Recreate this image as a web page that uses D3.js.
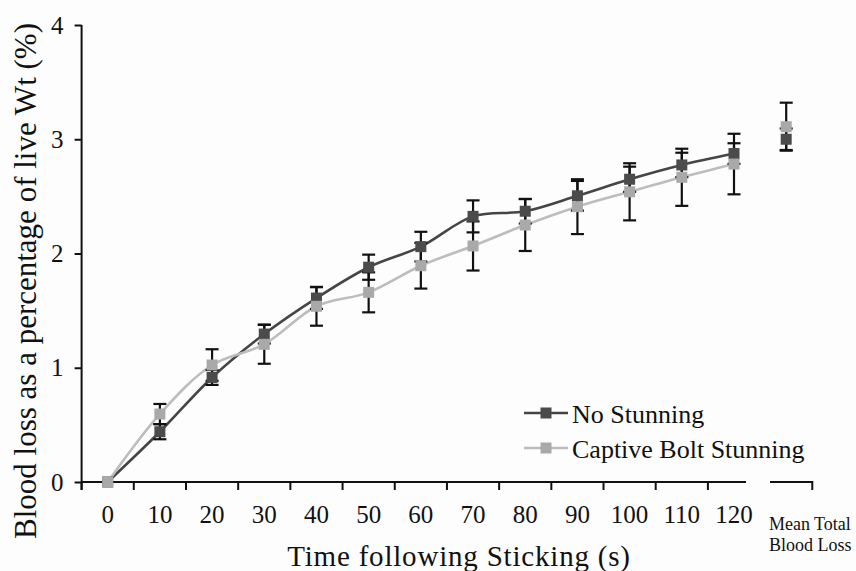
<!DOCTYPE html>
<html>
<head>
<meta charset="utf-8">
<script src="https://cdn.jsdelivr.net/npm/d3@7"></script>
<style>
  body { margin: 0; background: #fdfdfd; }
  svg { display: block; }
  text { font-family: "Liberation Serif", "Times New Roman", serif; fill: #111; }
</style>
</head>
<body>
<div id="chart"></div>
<script>
// Data
const times = [0, 10, 20, 30, 40, 50, 60, 70, 80, 90, 100, 110, 120];
const noStunning = [0, 0.44, 0.915, 1.295, 1.61, 1.88, 2.06, 2.325, 2.37, 2.505, 2.65, 2.775, 2.875];
const noStunningErr = [0, 0.066, 0.065, 0.083, 0.095, 0.11, 0.13, 0.14, 0.108, 0.13, 0.11, 0.107, 0.09];
const captiveBolt = [0, 0.595, 1.024, 1.205, 1.538, 1.66, 1.893, 2.066, 2.249, 2.41, 2.54, 2.667, 2.783];
const captiveBoltErr = [0, 0.088, 0.138, 0.17, 0.17, 0.175, 0.2, 0.215, 0.227, 0.24, 0.25, 0.25, 0.265];
const meanTotal = { noStunning: 3.0, noStunningErr: 0.094, captiveBolt: 3.11, captiveBoltErr: 0.21 };
const meanSlot = 130;   // x position of the "Mean Total Blood Loss" group
const yTicks = [0, 1, 2, 3, 4];

const W = 856, H = 571;
const DARK = "#4b4b4b", DARK_LINE = "#454545";
const LIGHT = "#a9a9a9", LIGHT_LINE = "#bdbdbd";

const svg = d3.select("#chart").append("svg")
  .attr("width", W).attr("height", H);

svg.append("rect").attr("width", W).attr("height", H).attr("fill", "#fdfdfd");

// Scales
const x = d3.scaleLinear().domain([0, 120]).range([107.7, 734]);
const y = d3.scaleLinear().domain([0, 4]).range([482, 25]);

// Y axis
const yAxis = svg.append("g")
  .attr("transform", "translate(" + x(-5) + ",0)")
  .call(d3.axisLeft(y).tickValues(yTicks).tickSize(7).tickPadding(11).tickFormat(d3.format("d")));
yAxis.select(".domain").attr("d", "M0," + y(4) + "V" + (y(0) + 8));
yAxis.selectAll("line, path").attr("stroke", "#111").attr("stroke-width", 2);
yAxis.selectAll("text").style("font-size", "25px").attr("fill", "#111")
  .style("font-family", "'Liberation Serif', serif");

// X axis (main)
const xTickPos = d3.range(-5, 120, 10);
const xAxis = svg.append("g").attr("transform", "translate(0," + y(0) + ")");
xAxis.append("path")
  .attr("d", "M" + x(-5) + ",0H" + x(122.3))
  .attr("stroke", "#111").attr("stroke-width", 2).attr("fill", "none");
xAxis.selectAll(".tk").data(xTickPos).enter().append("line")
  .attr("x1", d => x(d)).attr("x2", d => x(d))
  .attr("y1", 0).attr("y2", 8)
  .attr("stroke", "#111").attr("stroke-width", 2);
xAxis.selectAll(".lbl").data(times).enter().append("text")
  .attr("x", d => x(d)).attr("y", 41)
  .attr("text-anchor", "middle")
  .style("font-size", "25px")
  .text(d => d);

// X axis (mean group)
xAxis.append("path")
  .attr("d", "M" + x(126.9) + ",0H" + x(135) + "V8")
  .attr("stroke", "#111").attr("stroke-width", 2).attr("fill", "none");
const meanLabel = svg.append("text")
  .attr("x", x(126.7)).attr("y", 530)
  .style("font-size", "18px");
meanLabel.append("tspan").attr("x", x(126.7)).text("Mean Total");
meanLabel.append("tspan").attr("x", x(126.7)).attr("dy", 21).text("Blood Loss");

// Axis titles
svg.append("text")
  .attr("x", 459).attr("y", 566)
  .attr("text-anchor", "middle")
  .style("font-size", "29px")
  .style("letter-spacing", "0.8px")
  .text("Time following Sticking (s)");

svg.append("text")
  .attr("transform", "translate(36,281)rotate(-90)")
  .attr("text-anchor", "middle")
  .style("font-size", "31px")
  .text("Blood loss as a percentage of live Wt (%)");

// Series
const series = [
  { name: "No Stunning", vals: noStunning, errs: noStunningErr, mean: meanTotal.noStunning, meanErr: meanTotal.noStunningErr, fill: DARK, line: DARK_LINE },
  { name: "Captive Bolt Stunning", vals: captiveBolt, errs: captiveBoltErr, mean: meanTotal.captiveBolt, meanErr: meanTotal.captiveBoltErr, fill: LIGHT, line: LIGHT_LINE }
];

const line = d3.line()
  .x((d, i) => x(times[i]))
  .y(d => y(d))
  .curve(d3.curveCatmullRom.alpha(0.5));

series.forEach(s => {
  svg.append("path")
    .datum(s.vals)
    .attr("fill", "none")
    .attr("stroke", s.line)
    .attr("stroke-width", 2.6)
    .attr("d", line);
});

// Error bars then markers
const CAP = 6.5, SQ = 11;
series.forEach(s => {
  const pts = s.vals.map((v, i) => ({ t: times[i], v: v, e: s.errs[i] }))
    .concat([{ t: meanSlot, v: s.mean, e: s.meanErr }]);
  const eb = svg.append("g").attr("stroke", "#111").attr("stroke-width", 2.2);
  pts.filter(p => p.e > 0).forEach(p => {
    const cx = x(p.t);
    eb.append("line").attr("x1", cx).attr("x2", cx).attr("y1", y(p.v - p.e)).attr("y2", y(p.v + p.e));
    eb.append("line").attr("x1", cx - CAP).attr("x2", cx + CAP).attr("y1", y(p.v + p.e)).attr("y2", y(p.v + p.e));
    eb.append("line").attr("x1", cx - CAP).attr("x2", cx + CAP).attr("y1", y(p.v - p.e)).attr("y2", y(p.v - p.e));
  });
  s.pts = pts;
});
series.forEach(s => {
  svg.append("g").selectAll("rect").data(s.pts).enter().append("rect")
    .attr("x", d => x(d.t) - SQ / 2)
    .attr("y", d => y(d.v) - SQ / 2)
    .attr("width", SQ).attr("height", SQ)
    .attr("fill", s.fill);
});

// Legend
const legend = svg.append("g");
series.forEach((s, i) => {
  const ly = 413 + i * 35;
  legend.append("line").attr("x1", 524).attr("x2", 568).attr("y1", ly).attr("y2", ly)
    .attr("stroke", s.line).attr("stroke-width", 2.6);
  legend.append("rect").attr("x", 546 - SQ / 2).attr("y", ly - SQ / 2)
    .attr("width", SQ).attr("height", SQ).attr("fill", s.fill);
  legend.append("text").attr("x", 572).attr("y", ly + 9.5)
    .style("font-size", "26px").text(s.name);
});
</script>
</body>
</html>
